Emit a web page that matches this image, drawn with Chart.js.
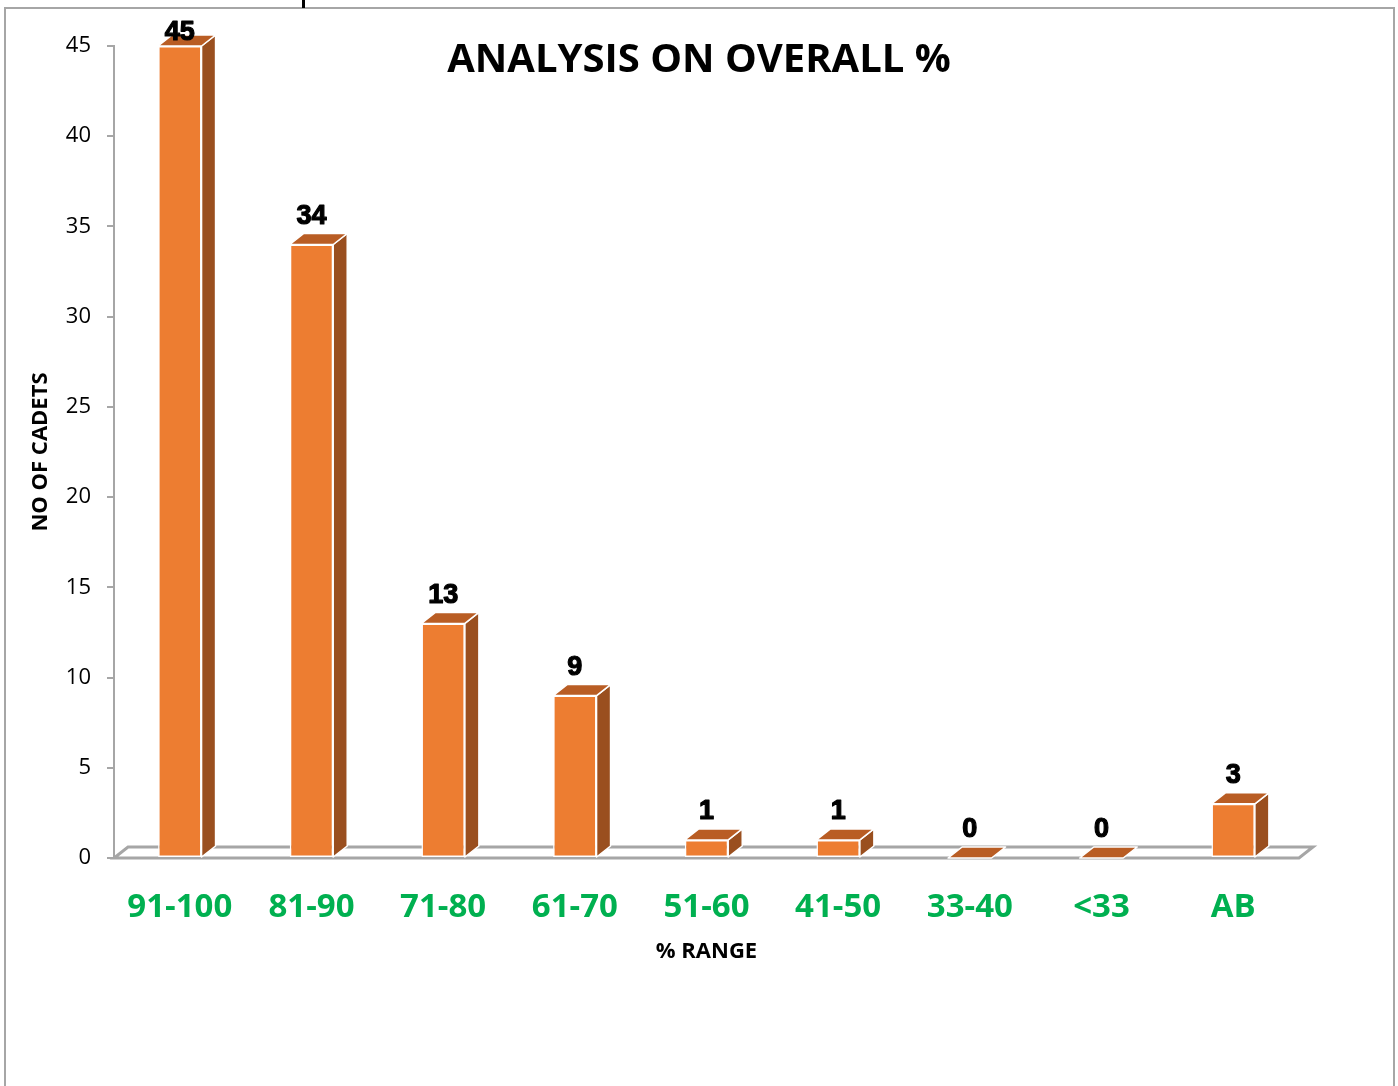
<!DOCTYPE html>
<html>
<head>
<meta charset="utf-8">
<script src="https://cdn.jsdelivr.net/npm/chart.js@4.4.1/dist/chart.umd.min.js"></script>
<style>
  body { margin: 0; background: #fff; }
  #wrap { position: relative; width: 1398px; height: 1086px; overflow: hidden; }
  #frame { position: absolute; left: 4px; top: 7px; width: 1387px; height: 1200px; border: 2px solid #a6a6a6; }
  #mark { position: absolute; left: 302px; top: 0; width: 3px; height: 8px; background: #000; }
  canvas { position: absolute; left: 0; top: 0; }
</style>
</head>
<body>
<div id="wrap">
  <div id="frame"></div>
  <div id="mark"></div>
  <canvas id="overallChart" width="1398" height="1086"></canvas>
</div>
<script>
// Data
const ranges = ['91-100', '81-90', '71-80', '61-70', '51-60', '41-50', '33-40', '<33', 'AB'];
const cadets = [45, 34, 13, 9, 1, 1, 0, 0, 3];
const yMax = 45;
const yStep = 5;

// depth of the fake 3D
const DX = 14, DY = 11;

// floor, side/top faces and value labels
const fake3d = {
  id: 'fake3d',
  beforeDatasetsDraw(chart) {
    const { ctx, chartArea: a } = chart;
    ctx.save();
    ctx.beginPath();
    ctx.moveTo(a.left, a.bottom);
    ctx.lineTo(a.right, a.bottom);
    ctx.lineTo(a.right + DX, a.bottom - DY);
    ctx.lineTo(a.left + DX, a.bottom - DY);
    ctx.closePath();
    ctx.fillStyle = '#fff';
    ctx.fill();
    ctx.lineWidth = 3;
    ctx.strokeStyle = '#a6a6a6';
    ctx.stroke();
    ctx.restore();
  },
  afterDatasetsDraw(chart) {
    const { ctx, chartArea: a } = chart;
    const meta = chart.getDatasetMeta(0);
    ctx.save();
    ctx.lineJoin = 'round';
    meta.data.forEach((bar, i) => {
      const x0 = bar.x - bar.width / 2;
      const x1 = bar.x + bar.width / 2;
      const top = bar.y;
      const base = bar.base;
      ctx.lineWidth = 1.5;
      ctx.strokeStyle = '#fff';
      // side
      if (base - top > 0.5) {
        ctx.beginPath();
        ctx.moveTo(x1, top);
        ctx.lineTo(x1 + DX, top - DY);
        ctx.lineTo(x1 + DX, base - DY);
        ctx.lineTo(x1, base);
        ctx.closePath();
        ctx.fillStyle = '#9a4f1f';
        ctx.fill();
        ctx.stroke();
      }
      // top
      ctx.beginPath();
      ctx.moveTo(x0, top);
      ctx.lineTo(x1, top);
      ctx.lineTo(x1 + DX, top - DY);
      ctx.lineTo(x0 + DX, top - DY);
      ctx.closePath();
      ctx.fillStyle = '#b95d24';
      ctx.fill();
      ctx.stroke();

      // value label
      ctx.fillStyle = '#000';
      ctx.strokeStyle = '#000';
      ctx.lineWidth = 1.2;
      ctx.font = 'bold 27px "Liberation Sans", Arial, sans-serif';
      ctx.textAlign = 'center';
      ctx.textBaseline = 'middle';
      const ly = Math.max(top - DY - 17, a.top - 13);
      ctx.fillText(String(cadets[i]), bar.x, ly);
      ctx.strokeText(String(cadets[i]), bar.x, ly);
    });
    ctx.restore();
  },
  afterDraw(chart) {
    const { ctx } = chart;
    ctx.save();
    ctx.fillStyle = '#000';
    ctx.font = 'bold 40px "Open Sans", sans-serif';
    ctx.textAlign = 'center';
    ctx.textBaseline = 'middle';
    ctx.fillText('ANALYSIS ON OVERALL %', 699, 61);
    ctx.restore();
  }
};

const data = {
  labels: ranges,
  datasets: [{
    label: 'NO OF CADETS',
    data: cadets,
    backgroundColor: '#ed7d31',
    borderColor: '#fff',
    borderWidth: 1.5,
    borderSkipped: false,
    categoryPercentage: 1,
    barPercentage: 0.33
  }]
};

const options = {
  responsive: false,
  animation: false,
  devicePixelRatio: 1,
  layout: { padding: { top: 46, right: 99, left: 0, bottom: 0 } },
  plugins: {
    legend: { display: false },
    tooltip: { enabled: false }
  },
  scales: {
    x: {
      grid: { display: false },
      border: { display: false },
      ticks: {
        color: '#00b050',
        padding: 22,
        font: { family: 'Open Sans', size: 33, weight: 'bold' }
      },
      title: {
        display: true,
        text: '% RANGE',
        color: '#000',
        font: { family: 'Open Sans', size: 22, weight: 'bold' },
        padding: { top: 0, bottom: 121 }
      },
      afterFit(scale) { scale.height = 228; }
    },
    y: {
      min: 0,
      max: yMax,
      ticks: {
        stepSize: yStep,
        color: '#000',
        padding: 16,
        font: { family: 'Open Sans', size: 22 }
      },
      grid: { drawOnChartArea: false, tickLength: 7, color: '#a6a6a6', lineWidth: 2 },
      border: { display: true, color: '#a6a6a6', width: 2 },
      title: {
        display: true,
        text: 'NO OF CADETS',
        color: '#000',
        font: { family: 'Open Sans', size: 22, weight: 'bold' },
        padding: { top: 28, bottom: 0 }
      },
      afterFit(scale) { scale.width = 114; }
    }
  }
};

new Chart(document.getElementById('overallChart'), {
  type: 'bar',
  data: data,
  options: options,
  plugins: [fake3d]
});
</script>
</body>
</html>
